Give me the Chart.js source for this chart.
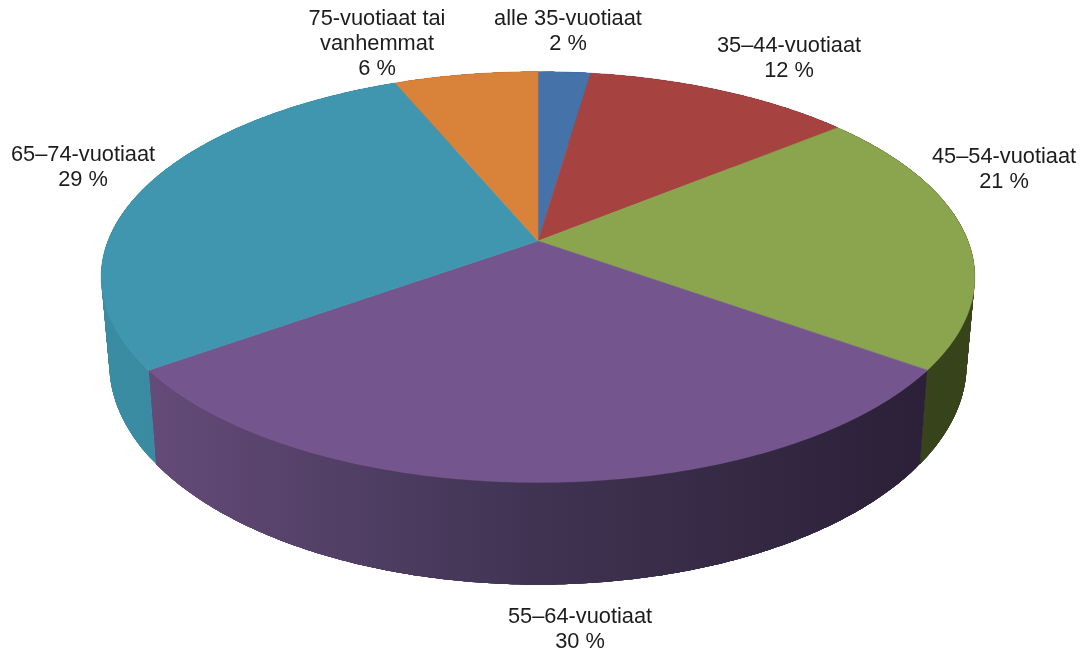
<!DOCTYPE html>
<html>
<head>
<meta charset="utf-8">
<script src="https://cdn.jsdelivr.net/npm/chart.js@4/dist/chart.umd.min.js"></script>
<style>
  html, body { margin: 0; padding: 0; background: #fff; }
  canvas { display: block; }
</style>
</head>
<body>
<canvas id="chart" width="1083" height="651"></canvas>
<script>
const categories = ["alle 35-vuotiaat", "35–44-vuotiaat", "45–54-vuotiaat", "55–64-vuotiaat", "65–74-vuotiaat", "75-vuotiaat tai vanhemmat"];
const shares = [2.3, 11.8, 20.8, 30.2, 28.6, 6.3];

const topColors = ["#4572a9", "#a64341", "#8aa54e", "#74558d", "#4096ae", "#d8823a"];
// left and right end of the side wall
const sideColors = [["#34557e", "#34557e"], ["#7c3230", "#7c3230"], ["#38451c", "#36431b"], ["#644b78", "#2b2037"], ["#3a8ca2", "#37869c"], ["#a16230", "#a16230"]];

// wrapped lines, and where each label block sits
const labelLines = [["alle 35-vuotiaat"], ["35–44-vuotiaat"], ["45–54-vuotiaat"], ["55–64-vuotiaat"], ["65–74-vuotiaat"], ["75-vuotiaat tai", "vanhemmat"]];
const labelSpots = [[568, 19], [789, 46], [1004, 157], [580, 617], [83, 155], [377, 19]];

// the pie is seen in perspective: the apex is not the middle of the ellipse,
// and the lower rim is a slightly narrower, rounder ellipse than the upper one
const apexX = 538, tilt = 0.1756;
const upperRim = { y: 241, sx: 430, sy: 199 };
const lowerRim = { y: 325, sx: 422, sy: 214 };

function project(theta, rim) {
    const u = Math.sin(theta), v = -Math.cos(theta), w = 1 - tilt * v;
    return [apexX + rim.sx * u / w, rim.y + rim.sy * v / w];
}

function arcPoints(a0, a1, rim) {
    const pts = [];
    const steps = Math.max(2, Math.ceil((a1 - a0) / 0.01));
    for (let i = 0; i <= steps; i++) pts.push(project(a0 + (a1 - a0) * i / steps, rim));
    return pts;
}

const pie3d = {
    id: "pie3d",
    beforeDatasetDraw() { return false; },
    afterDraw(chart) {
        const ctx = chart.ctx;
        const arcs = chart.getDatasetMeta(0).data;
        const angle = a => [a.startAngle + Math.PI / 2, a.endAngle + Math.PI / 2];

        // side walls first: overlapping strips, so no seams and a straight outline between the rims
        arcs.forEach((a, i) => {
            const [a0, a1] = angle(a);
            const up = arcPoints(a0, a1, upperRim), low = arcPoints(a0, a1, lowerRim);
            const xs = up.map(p => p[0]);
            const g = ctx.createLinearGradient(Math.min(...xs), 0, Math.max(...xs), 0);
            g.addColorStop(0, sideColors[i][0]);
            if (i === 3) g.addColorStop(0.5, "#3f3352");
            g.addColorStop(1, sideColors[i][1]);
            ctx.fillStyle = g;
            for (let k = 0; k < up.length - 1; k++) {
                const e = Math.min(k + 6, up.length - 1);
                ctx.beginPath();
                ctx.moveTo(up[k][0], up[k][1]);
                for (let m = k + 1; m <= e; m++) ctx.lineTo(up[m][0], up[m][1]);
                for (let m = e; m >= k; m--) ctx.lineTo(low[m][0], low[m][1]);
                ctx.closePath();
                ctx.fill();
            }
        });

        // top face
        arcs.forEach((a, i) => {
            const [a0, a1] = angle(a);
            ctx.beginPath();
            ctx.moveTo(apexX, upperRim.y);
            arcPoints(a0, a1, upperRim).forEach(p => ctx.lineTo(p[0], p[1]));
            ctx.closePath();
            ctx.fillStyle = topColors[i];
            ctx.strokeStyle = topColors[i];
            ctx.lineWidth = 0.6;
            ctx.fill();
            ctx.stroke();
        });

        ctx.font = '21.8px "Liberation Sans", Arial, sans-serif';
        ctx.fillStyle = "#1c1c1c";
        ctx.textAlign = "center";
        ctx.textBaseline = "middle";
        labelLines.forEach((lines, i) => {
            const [x, y] = labelSpots[i];
            lines.concat(Math.round(shares[i]) + " %").forEach((t, k) => ctx.fillText(t, x, y + k * 25));
        });
    }
};

new Chart(document.querySelector("#chart"), {
    type: "pie",
    data: {
        labels: categories,
        datasets: [{ data: shares, backgroundColor: topColors, borderWidth: 0 }]
    },
    options: {
        responsive: false,
        animation: false,
        events: [],
        plugins: { legend: { display: false }, tooltip: { enabled: false } }
    },
    plugins: [pie3d]
});
</script>
</body>
</html>
